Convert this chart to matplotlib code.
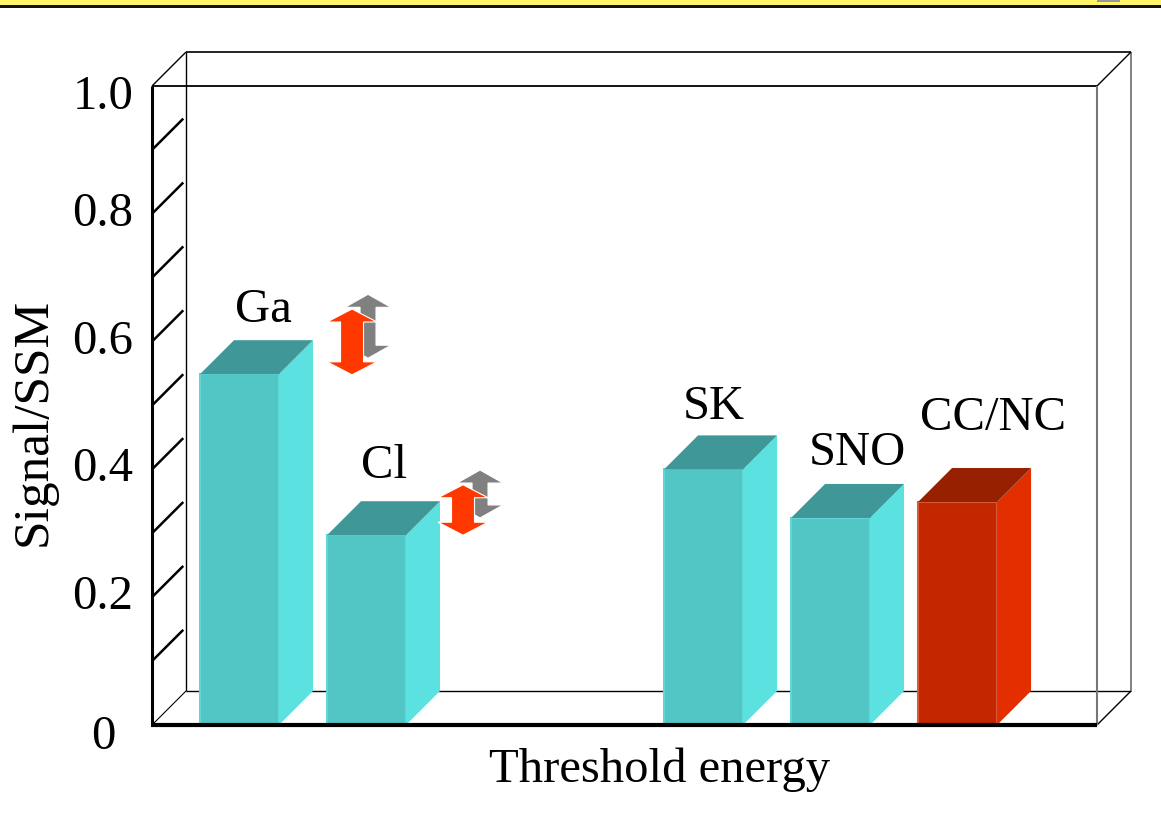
import matplotlib
matplotlib.use('Agg')
import matplotlib.pyplot as plt
from matplotlib.patches import Polygon, Rectangle

# ---------------- data ----------------
categories = ['Ga', 'Cl', 'SK', 'SNO', 'CC/NC']
ratios = [0.549, 0.297, 0.400, 0.324, 0.349]          # Signal / SSM
bar_kind = ['teal', 'teal', 'teal', 'teal', 'red']

# double-arrow uncertainty ranges for Ga and Cl (low, high)
arrow_cats = ['Ga', 'Cl']
red_low = [0.548, 0.297]
red_high = [0.651, 0.376]
gray_low = [0.574, 0.324]
gray_high = [0.674, 0.399]

ytick_values = [0, 0.2, 0.4, 0.6, 0.8, 1.0]
ytick_labels = ['0', '0.2', '0.4', '0.6', '0.8', '1.0']
wall_ticks = [0.1, 0.2, 0.3, 0.4, 0.5, 0.6, 0.7, 0.8, 0.9]

# ---------------- layout ----------------
W_PX, H_PX = 1161, 819
FL, FR, FT, FB = 152, 1097, 86, 725      # front frame in pixels
UNIT = 127.0                              # px per category unit
X0 = 239.5                                # px centre of first bar
xlim = ((FL - X0) / UNIT, (FR - X0) / UNIT)
x_pos = [0, 1, 3.654, 4.654, 5.654]
bar_w = 79 / UNIT
DX = 34 / UNIT
DY = 34 / (FB - FT)

FONT = ['Liberation Serif', 'DejaVu Serif']
FS = 35

fig = plt.figure(figsize=(W_PX / 100, H_PX / 100), dpi=100)
fig.patch.set_facecolor('white')
ax = fig.add_axes([FL / W_PX, (H_PX - FB) / H_PX, (FR - FL) / W_PX, (FB - FT) / H_PX])
ax.set_xlim(*xlim)
ax.set_ylim(0, 1)
ax.axis('off')

xl, xr = xlim

def line(xs, ys, color='black', lw=1.0, z=1):
    ax.plot(xs, ys, color=color, lw=lw, zorder=z, clip_on=False, solid_capstyle='butt')

# back frame
line([xl + DX, xr + DX], [1 + DY, 1 + DY], lw=1.2)
line([xl + DX, xl + DX], [DY, 1 + DY], lw=1.0)
line([xl + DX, xr + DX], [DY, DY], lw=1.0)
line([xr + DX, xr + DX], [DY, 1 + DY], color='#777777', lw=1.3)
# corner diagonals
line([xl, xl + DX], [1, 1 + DY], lw=1.0)
line([xr, xr + DX], [1, 1 + DY], lw=1.0)
line([xl, xl + DX], [0, DY], lw=0.8)
line([xr, xr + DX], [0, DY], lw=1.0)
# wall ticks
for t in wall_ticks:
    line([xl, xl + DX * 0.92], [t, t + DY * 0.92], lw=1.8)
# front frame
line([xl, xr], [1, 1], lw=1.3, z=6)
line([xr, xr], [0, 1], color='#777777', lw=1.5, z=6)

# ---------------- bars ----------------
palette = {
    'teal': dict(front='#52C5C5', side='#5CE1E1', top='#3F9797', edge='#62D6D6'),
    'red': dict(front='#C42600', side='#E32E00', top='#972000', edge='#D8593A'),
}
fronts = [palette[k]['front'] for k in bar_kind]
edges = [palette[k]['edge'] for k in bar_kind]
ax.bar(x_pos, ratios, width=bar_w, color=fronts, edgecolor=edges, linewidth=1.5,
       zorder=3, clip_on=False)
for x, v, k in zip(x_pos, ratios, bar_kind):
    c = palette[k]
    xa, xb = x - bar_w / 2, x + bar_w / 2
    ax.add_patch(Polygon([(xb, 0), (xb + DX, DY), (xb + DX, v + DY), (xb, v)],
                         closed=True, facecolor=c['side'], edgecolor='none',
                         zorder=3, clip_on=False))
    ax.add_patch(Polygon([(xa, v), (xb, v), (xb + DX, v + DY), (xa + DX, v + DY)],
                         closed=True, facecolor=c['top'], edgecolor='none',
                         zorder=3, clip_on=False))

# front axes lines on top
line([xl, xl], [0, 1], lw=2.2, z=7)
line([xl - 0.005, xr], [0, 0], lw=3.0, z=7)

# ---------------- double arrows ----------------
def double_arrow(xc, lo, hi, color, z, head_hw=25, shaft_hw=11.5, head_len=13):
    hw = head_hw / UNIT
    sw = shaft_hw / UNIT
    hl = head_len / (FB - FT)
    pts = [(xc, hi), (xc + hw, hi - hl), (xc + sw, hi - hl), (xc + sw, lo + hl),
           (xc + hw, lo + hl), (xc, lo), (xc - hw, lo + hl), (xc - sw, lo + hl),
           (xc - sw, hi - hl), (xc - hw, hi - hl)]
    ax.add_patch(Polygon(pts, closed=True, facecolor=color, edgecolor='white',
                         linewidth=0.8, zorder=z, clip_on=False))

red_arrow_x = [0.886, 1.760]
gray_arrow_x = [1.012, 1.894]
for i in range(len(arrow_cats)):
    double_arrow(gray_arrow_x[i], gray_low[i], gray_high[i], '#808080', 4,
                 head_hw=23, shaft_hw=8)
    double_arrow(red_arrow_x[i], red_low[i], red_high[i], '#FF3800', 5)

# ---------------- labels ----------------
label_x = [0.185, 1.142, 3.737, 4.862, 5.933]
label_y = [0.631, 0.387, 0.479, 0.407, 0.462]
for name, lx, ly in zip(categories, label_x, label_y):
    ax.text(lx, ly, name, ha='center', va='baseline', fontsize=FS, family=FONT,
            zorder=8)

# y tick labels (centered, as in the original)
tick_shift_px = {0: 12, 1.0: 11}
for v, lab in zip(ytick_values, ytick_labels):
    ypx = FB - v * (FB - FT) + tick_shift_px.get(v, 0)
    fig.text(103 / W_PX, 1 - ypx / H_PX, lab, ha='center', va='center',
             fontsize=FS, family=FONT)

fig.text(33 / W_PX, 1 - 422 / H_PX, 'Signal/SSM', rotation=90, ha='center',
         va='center', fontsize=37, family=FONT)
fig.text(660 / W_PX, 1 - 770 / H_PX, 'Threshold energy', ha='center',
         va='center', fontsize=FS, family=FONT)

# ---------------- top banner ----------------
fig.patches.append(Rectangle((0, 1 - 4.5 / H_PX), 1, 4.5 / H_PX,
                             transform=fig.transFigure, facecolor='#FFF566',
                             edgecolor='none', zorder=0))
fig.patches.append(Rectangle((0, 1 - 7.5 / H_PX), 1, 3 / H_PX,
                             transform=fig.transFigure, facecolor='#111111',
                             edgecolor='none', zorder=0))
fig.patches.append(Rectangle((1097 / W_PX, 1 - 1.5 / H_PX), 23 / W_PX, 1.5 / H_PX,
                             transform=fig.transFigure, facecolor='#999999',
                             edgecolor='none', zorder=1))

fig.savefig('out.png', dpi=100)
